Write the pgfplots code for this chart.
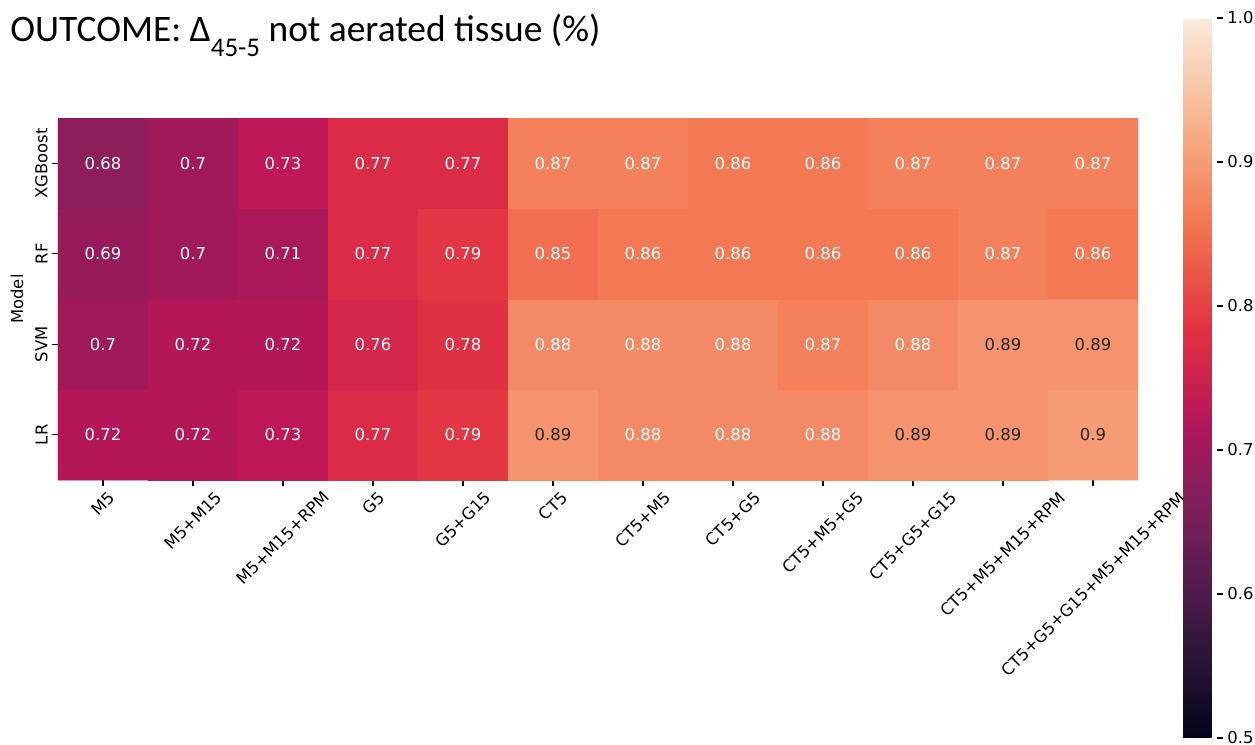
\documentclass[border=0pt]{standalone}
\usepackage{fontspec}
\setmainfont{DejaVu Sans}
\newfontfamily\titlefont{Carlito}
\usepackage{graphicx}
\usepackage{pgfplots}
\usepackage{pgfplotstable}
\pgfplotsset{compat=1.18}

\definecolor{tdark}{HTML}{262626}
\newcommand\tkf{\fontsize{8.2}{10}\selectfont}
\newcommand\rl[1]{\rotatebox{45}{#1}}

% seaborn "rocket"
\pgfplotsset{colormap={rocket}{
  rgb255(0cm)=(3,5,26) rgb255(1.43cm)=(53,25,62) rgb255(2.86cm)=(112,31,87)
  rgb255(3.6cm)=(142,29,91) rgb255(4.29cm)=(173,23,89) rgb255(4.6cm)=(190,24,86)
  rgb255(5.4cm)=(218,44,71) rgb255(5.71cm)=(225,51,66) rgb255(7.14cm)=(243,118,81)
  rgb255(8.57cm)=(246,180,143) rgb255(10cm)=(250,235,221)}}

% y: 0=LR, 1=SVM, 2=RF, 3=XGBoost; d=1 -> dark annotation
\pgfplotstableread{
x y v lbl d
0 0 0.72 0.72 0
1 0 0.72 0.72 0
2 0 0.73 0.73 0
3 0 0.77 0.77 0
4 0 0.79 0.79 0
5 0 0.89 0.89 1
6 0 0.88 0.88 0
7 0 0.88 0.88 0
8 0 0.88 0.88 0
9 0 0.89 0.89 1
10 0 0.89 0.89 1
11 0 0.90 0.9 1
0 1 0.70 0.7 0
1 1 0.72 0.72 0
2 1 0.72 0.72 0
3 1 0.76 0.76 0
4 1 0.78 0.78 0
5 1 0.88 0.88 0
6 1 0.88 0.88 0
7 1 0.88 0.88 0
8 1 0.87 0.87 0
9 1 0.88 0.88 0
10 1 0.89 0.89 1
11 1 0.89 0.89 1
0 2 0.69 0.69 0
1 2 0.70 0.7 0
2 2 0.71 0.71 0
3 2 0.77 0.77 0
4 2 0.79 0.79 0
5 2 0.85 0.85 0
6 2 0.86 0.86 0
7 2 0.86 0.86 0
8 2 0.86 0.86 0
9 2 0.86 0.86 0
10 2 0.87 0.87 0
11 2 0.86 0.86 0
0 3 0.68 0.68 0
1 3 0.70 0.7 0
2 3 0.73 0.73 0
3 3 0.77 0.77 0
4 3 0.77 0.77 0
5 3 0.87 0.87 0
6 3 0.87 0.87 0
7 3 0.86 0.86 0
8 3 0.86 0.86 0
9 3 0.87 0.87 0
10 3 0.87 0.87 0
11 3 0.87 0.87 0
}\heat

\begin{document}
\begin{tikzpicture}
\useasboundingbox (-29pt,-132.5pt) rectangle (598.5pt,240pt);
\begin{axis}[
    scale only axis,
    width=540pt, height=181pt,
    xmin=-0.5, xmax=11.5, ymin=-0.5, ymax=3.5,
    axis line style={draw=none},
    xtick={0,...,11}, ytick={0,...,3},
    xticklabels={\rl{M5},\rl{M5+M15},\rl{M5+M15+RPM},\rl{G5},\rl{G5+G15},\rl{CT5},
      \rl{CT5+M5},\rl{CT5+G5},\rl{CT5+M5+G5},\rl{CT5+G5+G15},\rl{CT5+M5+M15+RPM},
      \rl{CT5+G5+G15+M5+M15+RPM}},
    yticklabels={LR,SVM,RF,XGBoost},
    xtick pos=bottom, ytick pos=left, tick align=outside,
    major tick length=3pt,
    tick style={black, line width=0.6pt},
    xticklabel style={anchor=north, font=\tkf, inner sep=2pt},
    yticklabel style={rotate=90, anchor=south, font=\tkf, inner sep=2pt},
    ylabel={Model},
    every axis y label/.style={at={(rel axis cs:0,0.5)}, xshift=-20.5pt,
      rotate=90, anchor=center, font=\tkf},
    title={\titlefont\fontsize{18.7}{22}\selectfont OUTCOME: Δ\raisebox{-7.5pt}{\fontsize{13.5}{14}\selectfont 45-5} not aerated tissue (\%)},
    title style={at={(rel axis cs:-0.0444,1.177)}, anchor=base west, inner sep=0pt},
    colormap name=rocket,
    point meta min=0.5, point meta max=1,
    colorbar,
    colorbar style={
      scale only axis,
      width=17pt, height=360pt,
      at={(parent axis.north east)}, anchor=north west,
      xshift=14pt, yshift=50pt,
      axis line style={draw=none},
      ytick={0.5,0.6,0.7,0.8,0.9,1},
      yticklabels={0.5,0.6,0.7,0.8,0.9,1.0},
      ytick pos=right, yticklabel pos=right, tick align=outside,
      major tick length=3pt,
      tick style={black, line width=0.6pt},
      yticklabel style={font=\tkf, inner sep=2pt},
    },
    unbounded coords=discard,
]
\addplot[matrix plot*, mesh/cols=12, point meta=explicit]
  table[x=x, y=y, meta=v] {\heat};
% annotations: white on dark cells, dark grey on light cells
\addplot[draw=none, mark=none, point meta=explicit symbolic,
    x filter/.expression={\thisrow{d}==0 ? x : nan},
    nodes near coords, nodes near coords align=center,
    every node near coord/.append style={font=\tkf, text=white}]
  table[x=x, y=y, meta=lbl] {\heat};
\addplot[draw=none, mark=none, point meta=explicit symbolic,
    x filter/.expression={\thisrow{d}==1 ? x : nan},
    nodes near coords, nodes near coords align=center,
    every node near coord/.append style={font=\tkf, text=tdark}]
  table[x=x, y=y, meta=lbl] {\heat};
\end{axis}
\end{tikzpicture}
\end{document}
